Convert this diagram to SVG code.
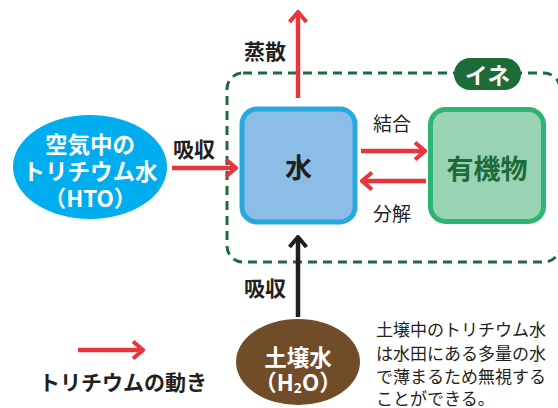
<svg xmlns="http://www.w3.org/2000/svg" width="558" height="408" viewBox="0 0 558 408">
<defs>
<style>
text{font-family:"Noto Sans CJK JP","Noto Sans",sans-serif;text-anchor:middle;dominant-baseline:central}
.lbl{font-size:21px;font-weight:bold;fill:#231f20}
.lbln{font-size:19px;fill:#231f20}
.wt{font-size:22.5px;font-weight:bold;fill:#fff}
.red{stroke:#e8353b;stroke-width:4.5;fill:none}
.blk{stroke:#231f20;stroke-width:4.5;fill:none}
.note{font-size:17px;fill:#231f20;text-anchor:start}
</style>
<marker id="ar" viewBox="0 0 14 20" refX="12" refY="10" markerWidth="14" markerHeight="20" markerUnits="userSpaceOnUse" orient="auto">
<path d="M2,1.5 L12,10 L2,18.5" fill="none" stroke="#e8353b" stroke-width="4"/>
</marker>
<marker id="ab" viewBox="0 0 14 20" refX="12" refY="10" markerWidth="14" markerHeight="20" markerUnits="userSpaceOnUse" orient="auto">
<path d="M2,1.5 L12,10 L2,18.5" fill="none" stroke="#231f20" stroke-width="4"/>
</marker>
</defs>
<rect width="558" height="408" fill="#fff"/>
<g id="ine">
<rect x="227" y="73" width="333" height="189" rx="16" fill="none" stroke="#1e6b3a" stroke-width="3" stroke-dasharray="9 6"/>
<rect x="454" y="58" width="67" height="32" rx="16" fill="#1e6b3a"/>
<text x="487.5" y="74" class="wt" font-size="21">イネ</text>
</g>
<g id="connectors">
<line x1="298" y1="98" x2="298" y2="12" class="red" marker-end="url(#ar)"/>
<line x1="172" y1="168" x2="236" y2="168" class="red" marker-end="url(#ar)"/>
<line x1="361" y1="151" x2="425" y2="151" class="red" marker-end="url(#ar)"/>
<line x1="426" y1="181" x2="362" y2="181" class="red" marker-end="url(#ar)"/>
<line x1="298" y1="317" x2="298" y2="237" class="blk" marker-end="url(#ab)"/>
<text x="265" y="50" class="lbl">蒸散</text>
<text x="194" y="148" class="lbl">吸収</text>
<text x="265" y="287" class="lbl">吸収</text>
<text x="392" y="122" class="lbln">結合</text>
<text x="392" y="212" class="lbln">分解</text>
</g>
<g id="water">
<rect x="242" y="109" width="113" height="113" rx="15" fill="#8bbde6" stroke="#29a8e0" stroke-width="5"/>
<text x="298.5" y="166" font-size="27" font-weight="bold" fill="#231f20">水</text>
</g>
<g id="organic">
<rect x="430.5" y="109.5" width="113" height="112" rx="15" fill="#98d3b4" stroke="#2db573" stroke-width="5"/>
<text x="487" y="167" font-size="27" font-weight="bold" fill="#1e6b3a">有機物</text>
</g>
<g id="air">
<ellipse cx="90" cy="167" rx="77" ry="52" fill="#00aeef"/>
<text x="90" y="143" class="wt">空気中の</text>
<text x="90" y="170" class="wt">トリチウム水</text>
<text x="90" y="197" class="wt">（HTO）</text>
</g>
<g id="soil">
<ellipse cx="298" cy="362" rx="62" ry="43" fill="#714c29"/>
<text x="298" y="356" class="wt">土壌水</text>
<text x="298" y="381" class="wt">（H<tspan font-size="14" dy="6">2</tspan><tspan dy="-6">O）</tspan></text>
</g>
<g id="legend">
<line x1="78" y1="350" x2="143" y2="350" class="red" marker-end="url(#ar)"/>
<text x="123" y="381" class="lbl">トリチウムの動き</text>
</g>
<g id="note">
<text x="376" y="328" class="note">土壌中のトリチウム水</text>
<text x="376" y="352" class="note">は水田にある多量の水</text>
<text x="376" y="375" class="note">で薄まるため無視する</text>
<text x="376" y="397" class="note">ことができる。</text>
</g>
</svg>
